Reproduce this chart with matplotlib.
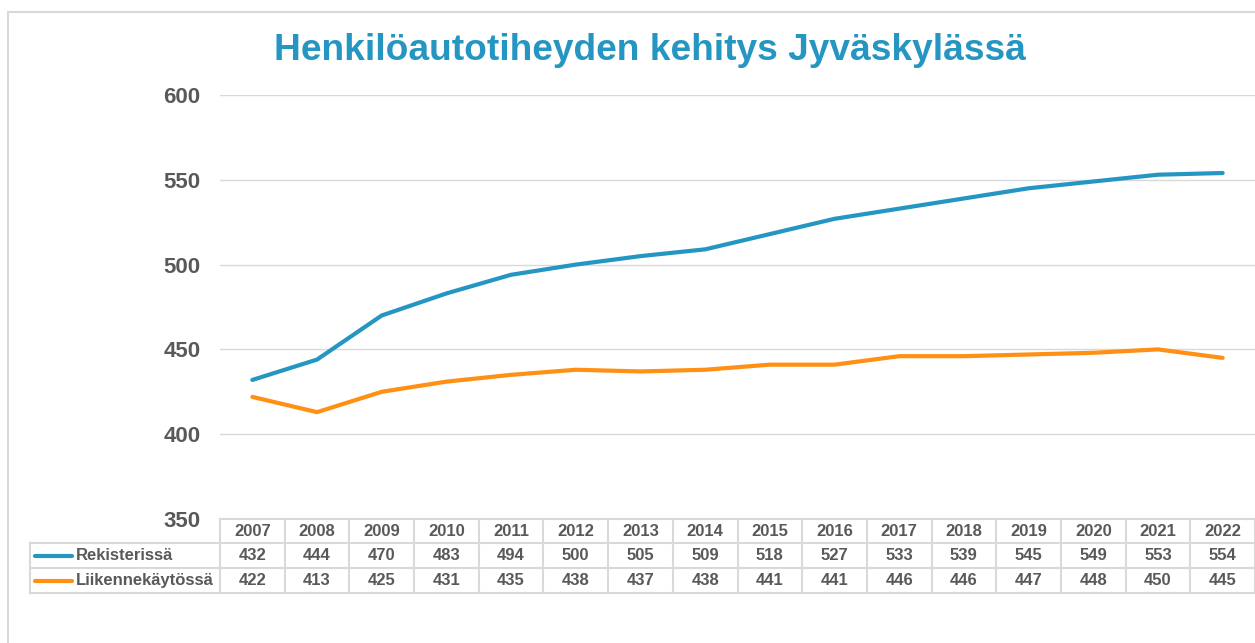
import matplotlib
matplotlib.use("AGG")
from matplotlib import pyplot as plt
from matplotlib.transforms import blended_transform_factory
from matplotlib.patches import Rectangle

years = [2007, 2008, 2009, 2010, 2011, 2012, 2013, 2014,
         2015, 2016, 2017, 2018, 2019, 2020, 2021, 2022]
rekisterissa = [432, 444, 470, 483, 494, 500, 505, 509,
                518, 527, 533, 539, 545, 549, 553, 554]
liikenne = [422, 413, 425, 431, 435, 438, 437, 438,
            441, 441, 446, 446, 447, 448, 450, 445]
series_names = ["Rekisterissä", "Liikennekäytössä"]
colors = ["#2596C2", "#FF9014"]
yticks = [350, 400, 450, 500, 550, 600]

plt.rcParams['font.family'] = ['Liberation Sans', 'DejaVu Sans']
W, H = 1255, 643
fig = plt.figure(figsize=(W / 100, H / 100), dpi=100)

def fx(px):
    return px / W

def fy(py):
    return 1 - py / H

# chart frame
fig.patches.append(Rectangle((fx(8), fy(700)), fx(1300), fy(12) - fy(700),
                             transform=fig.transFigure, fill=False,
                             edgecolor="#D9D9D9", lw=1.5))

ax = fig.add_axes([fx(220), fy(519), fx(1255) - fx(220), fy(95) - fy(519)])
x = list(range(len(years)))
for vals, c, name in zip([rekisterissa, liikenne], colors, series_names):
    ax.plot(x, vals, color=c, lw=3, solid_capstyle="round", label=name)

ax.set_xlim(-0.5, len(years) - 0.5)
ax.set_ylim(350, 600)
ax.set_yticks(yticks)
ax.set_yticklabels([str(t) for t in yticks], fontsize=16, fontweight="bold",
                   color="#595959")
ax.tick_params(axis="y", length=0, pad=14)
ax.set_xticks([])
ax.grid(axis="y", color="#D9D9D9", lw=1)
ax.set_axisbelow(True)
for s in ax.spines.values():
    s.set_visible(False)

fig.text(fx(650), fy(50), "Henkilöautotiheyden kehitys Jyväskylässä",
         ha="center", va="center", fontsize=26.7, fontweight="bold",
         color="#2596C2")

# data table below the axes
tr = blended_transform_factory(ax.transData, ax.transAxes)

def ay(py):
    return (fy(py) - fy(519)) / (fy(95) - fy(519))

grid_c = "#D9D9D9"
txt_c = "#595959"
row_edges = [519, 543, 568, 593]
x0, x1 = -0.5, len(years) - 0.5
lab_left = (30 - 220) / (1255 - 220) * len(years) - 0.5

kw = dict(transform=tr, clip_on=False, color=grid_c, lw=1.5)
ax.plot([x0, x1], [ay(519)] * 2, **kw)
for py in row_edges[1:]:
    ax.plot([lab_left, x1], [ay(py)] * 2, **kw)
for i in range(len(years) + 1):
    ax.plot([i - 0.5, i - 0.5], [ay(519), ay(593)], **kw)
ax.plot([lab_left, lab_left], [ay(543), ay(593)], **kw)

tkw = dict(transform=tr, ha="center", va="center", fontsize=12,
           fontweight="bold", color=txt_c, clip_on=False)
for i, yr in enumerate(years):
    ax.text(i, ay(531), str(yr), **tkw)
    for vals, py in zip([rekisterissa, liikenne], [555.5, 580.5]):
        ax.text(i, ay(py), str(vals[i]), **tkw)

for name, c, py in zip(series_names, colors, [555.5, 580.5]):
    fig.add_artist(plt.Line2D([fx(35), fx(72)], [fy(py), fy(py)], color=c,
                              lw=3, solid_capstyle="round",
                              transform=fig.transFigure))
    fig.text(fx(76), fy(py), name, ha="left", va="center", fontsize=12,
             fontweight="bold", color=txt_c)

plt.savefig("out.png", dpi=100)
